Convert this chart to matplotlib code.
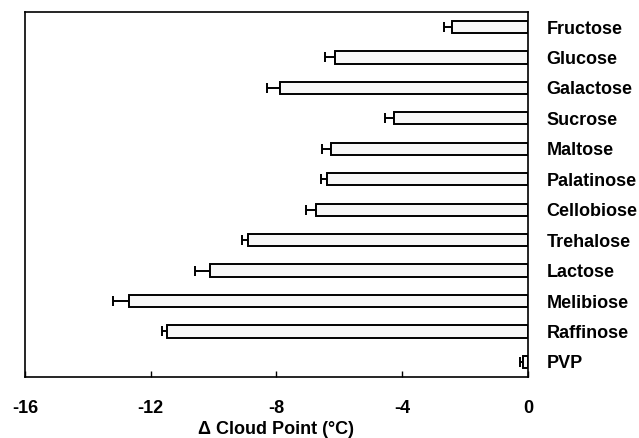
import numpy as np
import matplotlib.pyplot as plt

plt.rcParams['font.family'] = ['Liberation Sans', 'DejaVu Sans']

# -- Data
sugars = ["Fructose", "Glucose", "Galactose", "Sucrose", "Maltose", "Palatinose",
          "Cellobiose", "Trehalose", "Lactose", "Melibiose", "Raffinose", "PVP"]
delta_cp = [-2.4, -6.15, -7.9, -4.25, -6.25, -6.4, -6.75, -8.9, -10.1, -12.68, -11.47, -0.15]
err = [0.28, 0.3, 0.4, 0.3, 0.3, 0.18, 0.3, 0.2, 0.5, 0.52, 0.16, 0.1]

xticks = [-16, -12, -8, -4, 0]

# -- Figure
fig = plt.figure(figsize=(6.39, 4.38), dpi=100)
ax = fig.add_axes([0.039, 0.139, 0.787, 0.834])

ypos = np.arange(len(sugars))[::-1]
lower = np.array(err)
upper = np.zeros(len(err))

ax.barh(ypos, delta_cp, height=0.4, color='#f7f7f7', edgecolor='black',
        linewidth=1.4, zorder=3)
ax.errorbar(delta_cp, ypos, xerr=[lower, upper], fmt='none', ecolor='black',
            elinewidth=1.4, capsize=3.3, capthick=1.4, zorder=2)

# -- Axes
ax.set_xlim(-16, 0)
ax.set_ylim(-0.5, len(sugars) - 0.5)
ax.set_xticks(xticks)
ax.set_xticklabels([str(t) for t in xticks], fontsize=13, fontweight='bold')
ax.tick_params(axis='x', direction='in', length=4, width=1, pad=16.5)
ax.set_xlabel("Δ Cloud Point (°C)", fontsize=13, fontweight='bold', labelpad=3)

ax.yaxis.tick_right()
ax.set_yticks(ypos)
ax.set_yticklabels(sugars, fontsize=13, fontweight='bold')
ax.tick_params(axis='y', length=0, pad=13.5)

for s in ax.spines.values():
    s.set_linewidth(1.2)

fig.savefig("out.png", dpi=100)
